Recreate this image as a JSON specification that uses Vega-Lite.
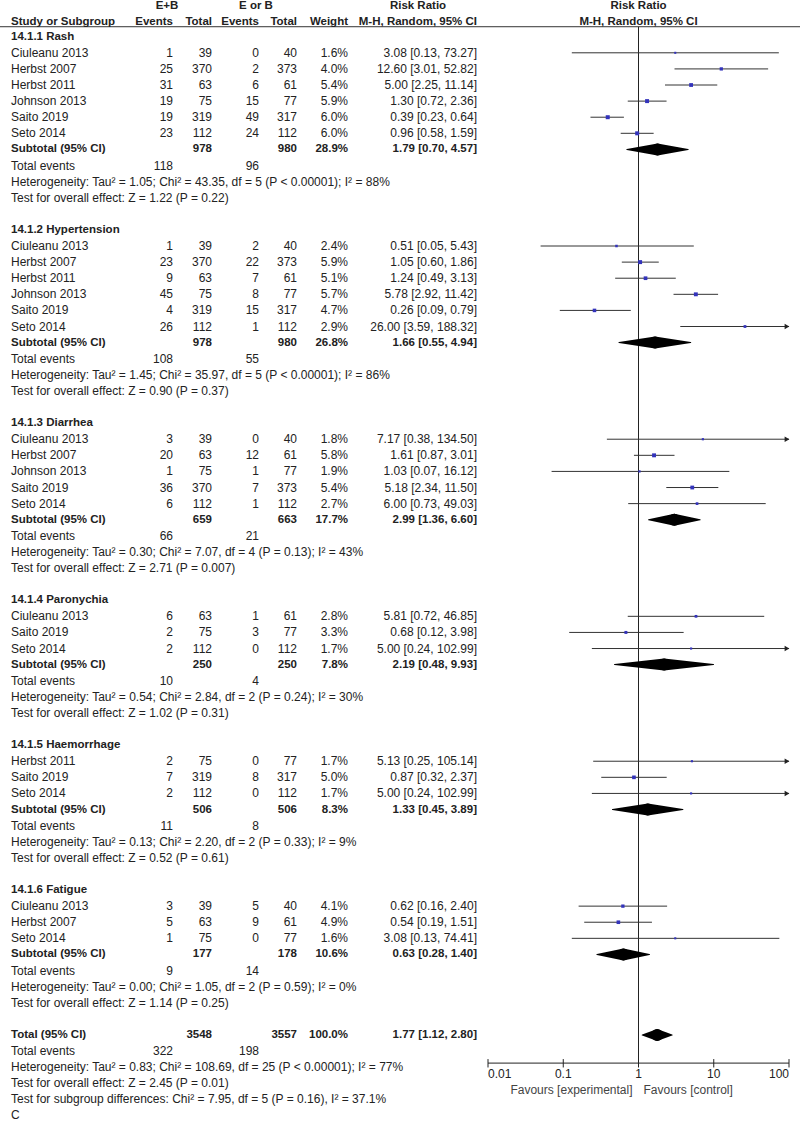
{
  "$schema": "https://vega.github.io/schema/vega-lite/v6.json",
  "width": 800,
  "height": 1123,
  "padding": 0,
  "autosize": {"type": "none"},
  "background": "white",
  "config": {
    "view": {"stroke": null},
    "text": {"font": "Liberation Sans", "fontSize": 12, "color": "#222", "baseline": "middle"}
  },
  "datasets": {
    "tab": [
      {"r": -0.93, "k": "head", "s": "Study or Subgroup", "e1": "Events", "n1": "Total", "e2": "Events", "n2": "Total", "w": "Weight", "ci": "M-H, Random, 95% CI"},
      {"r": 0, "k": "grp", "s": "14.1.1 Rash"},
      {"r": 1, "k": "st", "s": "Ciuleanu 2013", "e1": 1, "n1": 39, "e2": 0, "n2": 40, "w": "1.6%", "wt": 1.6, "ci": "3.08 [0.13, 73.27]", "est": 3.08, "lo": 0.13, "hi": 73.27},
      {"r": 2, "k": "st", "s": "Herbst 2007", "e1": 25, "n1": 370, "e2": 2, "n2": 373, "w": "4.0%", "wt": 4.0, "ci": "12.60 [3.01, 52.82]", "est": 12.6, "lo": 3.01, "hi": 52.82},
      {"r": 3, "k": "st", "s": "Herbst 2011", "e1": 31, "n1": 63, "e2": 6, "n2": 61, "w": "5.4%", "wt": 5.4, "ci": "5.00 [2.25, 11.14]", "est": 5.0, "lo": 2.25, "hi": 11.14},
      {"r": 4, "k": "st", "s": "Johnson 2013", "e1": 19, "n1": 75, "e2": 15, "n2": 77, "w": "5.9%", "wt": 5.9, "ci": "1.30 [0.72, 2.36]", "est": 1.3, "lo": 0.72, "hi": 2.36},
      {"r": 5, "k": "st", "s": "Saito 2019", "e1": 19, "n1": 319, "e2": 49, "n2": 317, "w": "6.0%", "wt": 6.0, "ci": "0.39 [0.23, 0.64]", "est": 0.39, "lo": 0.23, "hi": 0.64},
      {"r": 6, "k": "st", "s": "Seto 2014", "e1": 23, "n1": 112, "e2": 24, "n2": 112, "w": "6.0%", "wt": 6.0, "ci": "0.96 [0.58, 1.59]", "est": 0.96, "lo": 0.58, "hi": 1.59},
      {"r": 7, "k": "sub", "s": "Subtotal (95% CI)", "n1": 978, "n2": 980, "w": "28.9%", "ci": "1.79 [0.70, 4.57]", "est": 1.79, "lo": 0.70, "hi": 4.57},
      {"r": 8, "k": "ev", "s": "Total events", "e1": 118, "e2": 96},
      {"r": 9, "k": "note", "s": "Heterogeneity: Tau² = 1.05; Chi² = 43.35, df = 5 (P < 0.00001); I² = 88%"},
      {"r": 10, "k": "note", "s": "Test for overall effect: Z = 1.22 (P = 0.22)"},
      {"r": 12, "k": "grp", "s": "14.1.2 Hypertension"},
      {"r": 13, "k": "st", "s": "Ciuleanu 2013", "e1": 1, "n1": 39, "e2": 2, "n2": 40, "w": "2.4%", "wt": 2.4, "ci": "0.51 [0.05, 5.43]", "est": 0.51, "lo": 0.05, "hi": 5.43},
      {"r": 14, "k": "st", "s": "Herbst 2007", "e1": 23, "n1": 370, "e2": 22, "n2": 373, "w": "5.9%", "wt": 5.9, "ci": "1.05 [0.60, 1.86]", "est": 1.05, "lo": 0.60, "hi": 1.86},
      {"r": 15, "k": "st", "s": "Herbst 2011", "e1": 9, "n1": 63, "e2": 7, "n2": 61, "w": "5.1%", "wt": 5.1, "ci": "1.24 [0.49, 3.13]", "est": 1.24, "lo": 0.49, "hi": 3.13},
      {"r": 16, "k": "st", "s": "Johnson 2013", "e1": 45, "n1": 75, "e2": 8, "n2": 77, "w": "5.7%", "wt": 5.7, "ci": "5.78 [2.92, 11.42]", "est": 5.78, "lo": 2.92, "hi": 11.42},
      {"r": 17, "k": "st", "s": "Saito 2019", "e1": 4, "n1": 319, "e2": 15, "n2": 317, "w": "4.7%", "wt": 4.7, "ci": "0.26 [0.09, 0.79]", "est": 0.26, "lo": 0.09, "hi": 0.79},
      {"r": 18, "k": "st", "s": "Seto 2014", "e1": 26, "n1": 112, "e2": 1, "n2": 112, "w": "2.9%", "wt": 2.9, "ci": "26.00 [3.59, 188.32]", "est": 26.0, "lo": 3.59, "hi": 188.32},
      {"r": 19, "k": "sub", "s": "Subtotal (95% CI)", "n1": 978, "n2": 980, "w": "26.8%", "ci": "1.66 [0.55, 4.94]", "est": 1.66, "lo": 0.55, "hi": 4.94},
      {"r": 20, "k": "ev", "s": "Total events", "e1": 108, "e2": 55},
      {"r": 21, "k": "note", "s": "Heterogeneity: Tau² = 1.45; Chi² = 35.97, df = 5 (P < 0.00001); I² = 86%"},
      {"r": 22, "k": "note", "s": "Test for overall effect: Z = 0.90 (P = 0.37)"},
      {"r": 24, "k": "grp", "s": "14.1.3 Diarrhea"},
      {"r": 25, "k": "st", "s": "Ciuleanu 2013", "e1": 3, "n1": 39, "e2": 0, "n2": 40, "w": "1.8%", "wt": 1.8, "ci": "7.17 [0.38, 134.50]", "est": 7.17, "lo": 0.38, "hi": 134.5},
      {"r": 26, "k": "st", "s": "Herbst 2007", "e1": 20, "n1": 63, "e2": 12, "n2": 61, "w": "5.8%", "wt": 5.8, "ci": "1.61 [0.87, 3.01]", "est": 1.61, "lo": 0.87, "hi": 3.01},
      {"r": 27, "k": "st", "s": "Johnson 2013", "e1": 1, "n1": 75, "e2": 1, "n2": 77, "w": "1.9%", "wt": 1.9, "ci": "1.03 [0.07, 16.12]", "est": 1.03, "lo": 0.07, "hi": 16.12},
      {"r": 28, "k": "st", "s": "Saito 2019", "e1": 36, "n1": 370, "e2": 7, "n2": 373, "w": "5.4%", "wt": 5.4, "ci": "5.18 [2.34, 11.50]", "est": 5.18, "lo": 2.34, "hi": 11.5},
      {"r": 29, "k": "st", "s": "Seto 2014", "e1": 6, "n1": 112, "e2": 1, "n2": 112, "w": "2.7%", "wt": 2.7, "ci": "6.00 [0.73, 49.03]", "est": 6.0, "lo": 0.73, "hi": 49.03},
      {"r": 30, "k": "sub", "s": "Subtotal (95% CI)", "n1": 659, "n2": 663, "w": "17.7%", "ci": "2.99 [1.36, 6.60]", "est": 2.99, "lo": 1.36, "hi": 6.6},
      {"r": 31, "k": "ev", "s": "Total events", "e1": 66, "e2": 21},
      {"r": 32, "k": "note", "s": "Heterogeneity: Tau² = 0.30; Chi² = 7.07, df = 4 (P = 0.13); I² = 43%"},
      {"r": 33, "k": "note", "s": "Test for overall effect: Z = 2.71 (P = 0.007)"},
      {"r": 35, "k": "grp", "s": "14.1.4 Paronychia"},
      {"r": 36, "k": "st", "s": "Ciuleanu 2013", "e1": 6, "n1": 63, "e2": 1, "n2": 61, "w": "2.8%", "wt": 2.8, "ci": "5.81 [0.72, 46.85]", "est": 5.81, "lo": 0.72, "hi": 46.85},
      {"r": 37, "k": "st", "s": "Saito 2019", "e1": 2, "n1": 75, "e2": 3, "n2": 77, "w": "3.3%", "wt": 3.3, "ci": "0.68 [0.12, 3.98]", "est": 0.68, "lo": 0.12, "hi": 3.98},
      {"r": 38, "k": "st", "s": "Seto 2014", "e1": 2, "n1": 112, "e2": 0, "n2": 112, "w": "1.7%", "wt": 1.7, "ci": "5.00 [0.24, 102.99]", "est": 5.0, "lo": 0.24, "hi": 102.99},
      {"r": 39, "k": "sub", "s": "Subtotal (95% CI)", "n1": 250, "n2": 250, "w": "7.8%", "ci": "2.19 [0.48, 9.93]", "est": 2.19, "lo": 0.48, "hi": 9.93},
      {"r": 40, "k": "ev", "s": "Total events", "e1": 10, "e2": 4},
      {"r": 41, "k": "note", "s": "Heterogeneity: Tau² = 0.54; Chi² = 2.84, df = 2 (P = 0.24); I² = 30%"},
      {"r": 42, "k": "note", "s": "Test for overall effect: Z = 1.02 (P = 0.31)"},
      {"r": 44, "k": "grp", "s": "14.1.5 Haemorrhage"},
      {"r": 45, "k": "st", "s": "Herbst 2011", "e1": 2, "n1": 75, "e2": 0, "n2": 77, "w": "1.7%", "wt": 1.7, "ci": "5.13 [0.25, 105.14]", "est": 5.13, "lo": 0.25, "hi": 105.14},
      {"r": 46, "k": "st", "s": "Saito 2019", "e1": 7, "n1": 319, "e2": 8, "n2": 317, "w": "5.0%", "wt": 5.0, "ci": "0.87 [0.32, 2.37]", "est": 0.87, "lo": 0.32, "hi": 2.37},
      {"r": 47, "k": "st", "s": "Seto 2014", "e1": 2, "n1": 112, "e2": 0, "n2": 112, "w": "1.7%", "wt": 1.7, "ci": "5.00 [0.24, 102.99]", "est": 5.0, "lo": 0.24, "hi": 102.99},
      {"r": 48, "k": "sub", "s": "Subtotal (95% CI)", "n1": 506, "n2": 506, "w": "8.3%", "ci": "1.33 [0.45, 3.89]", "est": 1.33, "lo": 0.45, "hi": 3.89},
      {"r": 49, "k": "ev", "s": "Total events", "e1": 11, "e2": 8},
      {"r": 50, "k": "note", "s": "Heterogeneity: Tau² = 0.13; Chi² = 2.20, df = 2 (P = 0.33); I² = 9%"},
      {"r": 51, "k": "note", "s": "Test for overall effect: Z = 0.52 (P = 0.61)"},
      {"r": 53, "k": "grp", "s": "14.1.6 Fatigue"},
      {"r": 54, "k": "st", "s": "Ciuleanu 2013", "e1": 3, "n1": 39, "e2": 5, "n2": 40, "w": "4.1%", "wt": 4.1, "ci": "0.62 [0.16, 2.40]", "est": 0.62, "lo": 0.16, "hi": 2.4},
      {"r": 55, "k": "st", "s": "Herbst 2007", "e1": 5, "n1": 63, "e2": 9, "n2": 61, "w": "4.9%", "wt": 4.9, "ci": "0.54 [0.19, 1.51]", "est": 0.54, "lo": 0.19, "hi": 1.51},
      {"r": 56, "k": "st", "s": "Seto 2014", "e1": 1, "n1": 75, "e2": 0, "n2": 77, "w": "1.6%", "wt": 1.6, "ci": "3.08 [0.13, 74.41]", "est": 3.08, "lo": 0.13, "hi": 74.41},
      {"r": 57, "k": "sub", "s": "Subtotal (95% CI)", "n1": 177, "n2": 178, "w": "10.6%", "ci": "0.63 [0.28, 1.40]", "est": 0.63, "lo": 0.28, "hi": 1.4},
      {"r": 58, "k": "ev", "s": "Total events", "e1": 9, "e2": 14},
      {"r": 59, "k": "note", "s": "Heterogeneity: Tau² = 0.00; Chi² = 1.05, df = 2 (P = 0.59); I² = 0%"},
      {"r": 60, "k": "note", "s": "Test for overall effect: Z = 1.14 (P = 0.25)"},
      {"r": 62, "k": "sub", "s": "Total (95% CI)", "n1": 3548, "n2": 3557, "w": "100.0%", "ci": "1.77 [1.12, 2.80]", "est": 1.77, "lo": 1.12, "hi": 2.8},
      {"r": 63, "k": "ev", "s": "Total events", "e1": 322, "e2": 198},
      {"r": 64, "k": "note", "s": "Heterogeneity: Tau² = 0.83; Chi² = 108.69, df = 25 (P < 0.00001); I² = 77%"},
      {"r": 65, "k": "note", "s": "Test for overall effect: Z = 2.45 (P = 0.01)"},
      {"r": 66, "k": "note", "s": "Test for subgroup differences: Chi² = 7.95, df = 5 (P = 0.16), I² = 37.1%"},
      {"r": 67, "k": "note", "s": "C"}
    ],
    "ticks": [{"v": 0.01}, {"v": 0.1}, {"v": 1}, {"v": 10}, {"v": 100}]
  },
  "data": {"name": "tab"},
  "layer": [
    {
      "layer": [
        {"transform": [{"filter": "datum.k=='head'"}], "mark": {"type": "rule", "color": "#333", "strokeWidth": 1},
         "encoding": {"x": {"datum": 0, "type": "quantitative", "scale": {"domain": [0, 800], "range": [0, 800]}, "axis": null},
                      "x2": {"datum": 800},
                      "y": {"datum": -0.62, "type": "quantitative", "scale": {"domain": [-2.28, 67.47], "reverse": true}, "axis": null}}},
        {"transform": [{"filter": "datum.k=='head'"}], "mark": {"type": "text", "align": "center", "fontWeight": "bold", "fontSize": 11.5},
         "encoding": {"x": {"datum": 167, "type": "quantitative", "scale": {"domain": [0, 800], "range": [0, 800]}, "axis": null},
                      "y": {"datum": -1.9, "type": "quantitative", "scale": {"domain": [-2.28, 67.47], "reverse": true}, "axis": null},
                      "text": {"value": "E+B"}}},
        {"transform": [{"filter": "datum.k=='head'"}], "mark": {"type": "text", "align": "center", "fontWeight": "bold", "fontSize": 11.5},
         "encoding": {"x": {"datum": 256, "type": "quantitative", "scale": {"domain": [0, 800], "range": [0, 800]}, "axis": null},
                      "y": {"datum": -1.9, "type": "quantitative", "scale": {"domain": [-2.28, 67.47], "reverse": true}, "axis": null},
                      "text": {"value": "E or B"}}},
        {"transform": [{"filter": "datum.k=='head'"}], "mark": {"type": "text", "align": "center", "fontWeight": "bold", "fontSize": 11.5},
         "encoding": {"x": {"datum": 418, "type": "quantitative", "scale": {"domain": [0, 800], "range": [0, 800]}, "axis": null},
                      "y": {"datum": -1.9, "type": "quantitative", "scale": {"domain": [-2.28, 67.47], "reverse": true}, "axis": null},
                      "text": {"value": "Risk Ratio"}}},

        {"transform": [{"filter": "!(datum.k=='head'||datum.k=='grp'||datum.k=='sub')"}],
         "mark": {"type": "text", "align": "left"},
         "encoding": {"x": {"datum": 11, "type": "quantitative", "scale": {"domain": [0, 800], "range": [0, 800]}, "axis": null},
                      "y": {"field": "r", "type": "quantitative", "scale": {"domain": [-2.28, 67.47], "reverse": true}, "axis": null},
                      "text": {"field": "s", "type": "nominal"}}},
        {"transform": [{"filter": "!(datum.k=='head'||datum.k=='grp'||datum.k=='sub') && isValid(datum.e1)"}],
         "mark": {"type": "text", "align": "right"},
         "encoding": {"x": {"datum": 173, "type": "quantitative", "scale": {"domain": [0, 800], "range": [0, 800]}, "axis": null},
                      "y": {"field": "r", "type": "quantitative", "scale": {"domain": [-2.28, 67.47], "reverse": true}, "axis": null},
                      "text": {"field": "e1", "type": "nominal"}}},
        {"transform": [{"filter": "!(datum.k=='head'||datum.k=='grp'||datum.k=='sub') && isValid(datum.n1)"}],
         "mark": {"type": "text", "align": "right"},
         "encoding": {"x": {"datum": 212, "type": "quantitative", "scale": {"domain": [0, 800], "range": [0, 800]}, "axis": null},
                      "y": {"field": "r", "type": "quantitative", "scale": {"domain": [-2.28, 67.47], "reverse": true}, "axis": null},
                      "text": {"field": "n1", "type": "nominal"}}},
        {"transform": [{"filter": "!(datum.k=='head'||datum.k=='grp'||datum.k=='sub') && isValid(datum.e2)"}],
         "mark": {"type": "text", "align": "right"},
         "encoding": {"x": {"datum": 259, "type": "quantitative", "scale": {"domain": [0, 800], "range": [0, 800]}, "axis": null},
                      "y": {"field": "r", "type": "quantitative", "scale": {"domain": [-2.28, 67.47], "reverse": true}, "axis": null},
                      "text": {"field": "e2", "type": "nominal"}}},
        {"transform": [{"filter": "!(datum.k=='head'||datum.k=='grp'||datum.k=='sub') && isValid(datum.n2)"}],
         "mark": {"type": "text", "align": "right"},
         "encoding": {"x": {"datum": 297, "type": "quantitative", "scale": {"domain": [0, 800], "range": [0, 800]}, "axis": null},
                      "y": {"field": "r", "type": "quantitative", "scale": {"domain": [-2.28, 67.47], "reverse": true}, "axis": null},
                      "text": {"field": "n2", "type": "nominal"}}},
        {"transform": [{"filter": "!(datum.k=='head'||datum.k=='grp'||datum.k=='sub') && isValid(datum.w)"}],
         "mark": {"type": "text", "align": "right"},
         "encoding": {"x": {"datum": 348, "type": "quantitative", "scale": {"domain": [0, 800], "range": [0, 800]}, "axis": null},
                      "y": {"field": "r", "type": "quantitative", "scale": {"domain": [-2.28, 67.47], "reverse": true}, "axis": null},
                      "text": {"field": "w", "type": "nominal"}}},
        {"transform": [{"filter": "!(datum.k=='head'||datum.k=='grp'||datum.k=='sub') && isValid(datum.ci)"}],
         "mark": {"type": "text", "align": "right"},
         "encoding": {"x": {"datum": 477, "type": "quantitative", "scale": {"domain": [0, 800], "range": [0, 800]}, "axis": null},
                      "y": {"field": "r", "type": "quantitative", "scale": {"domain": [-2.28, 67.47], "reverse": true}, "axis": null},
                      "text": {"field": "ci", "type": "nominal"}}},

        {"transform": [{"filter": "(datum.k=='head'||datum.k=='grp'||datum.k=='sub')"}],
         "mark": {"type": "text", "align": "left", "fontWeight": "bold", "fontSize": 11.5},
         "encoding": {"x": {"datum": 11, "type": "quantitative", "scale": {"domain": [0, 800], "range": [0, 800]}, "axis": null},
                      "y": {"field": "r", "type": "quantitative", "scale": {"domain": [-2.28, 67.47], "reverse": true}, "axis": null},
                      "text": {"field": "s", "type": "nominal"}}},
        {"transform": [{"filter": "(datum.k=='head'||datum.k=='grp'||datum.k=='sub') && isValid(datum.e1)"}],
         "mark": {"type": "text", "align": "right", "fontWeight": "bold", "fontSize": 11.5},
         "encoding": {"x": {"datum": 173, "type": "quantitative", "scale": {"domain": [0, 800], "range": [0, 800]}, "axis": null},
                      "y": {"field": "r", "type": "quantitative", "scale": {"domain": [-2.28, 67.47], "reverse": true}, "axis": null},
                      "text": {"field": "e1", "type": "nominal"}}},
        {"transform": [{"filter": "(datum.k=='head'||datum.k=='grp'||datum.k=='sub') && isValid(datum.n1)"}],
         "mark": {"type": "text", "align": "right", "fontWeight": "bold", "fontSize": 11.5},
         "encoding": {"x": {"datum": 212, "type": "quantitative", "scale": {"domain": [0, 800], "range": [0, 800]}, "axis": null},
                      "y": {"field": "r", "type": "quantitative", "scale": {"domain": [-2.28, 67.47], "reverse": true}, "axis": null},
                      "text": {"field": "n1", "type": "nominal"}}},
        {"transform": [{"filter": "(datum.k=='head'||datum.k=='grp'||datum.k=='sub') && isValid(datum.e2)"}],
         "mark": {"type": "text", "align": "right", "fontWeight": "bold", "fontSize": 11.5},
         "encoding": {"x": {"datum": 259, "type": "quantitative", "scale": {"domain": [0, 800], "range": [0, 800]}, "axis": null},
                      "y": {"field": "r", "type": "quantitative", "scale": {"domain": [-2.28, 67.47], "reverse": true}, "axis": null},
                      "text": {"field": "e2", "type": "nominal"}}},
        {"transform": [{"filter": "(datum.k=='head'||datum.k=='grp'||datum.k=='sub') && isValid(datum.n2)"}],
         "mark": {"type": "text", "align": "right", "fontWeight": "bold", "fontSize": 11.5},
         "encoding": {"x": {"datum": 297, "type": "quantitative", "scale": {"domain": [0, 800], "range": [0, 800]}, "axis": null},
                      "y": {"field": "r", "type": "quantitative", "scale": {"domain": [-2.28, 67.47], "reverse": true}, "axis": null},
                      "text": {"field": "n2", "type": "nominal"}}},
        {"transform": [{"filter": "(datum.k=='head'||datum.k=='grp'||datum.k=='sub') && isValid(datum.w)"}],
         "mark": {"type": "text", "align": "right", "fontWeight": "bold", "fontSize": 11.5},
         "encoding": {"x": {"datum": 348, "type": "quantitative", "scale": {"domain": [0, 800], "range": [0, 800]}, "axis": null},
                      "y": {"field": "r", "type": "quantitative", "scale": {"domain": [-2.28, 67.47], "reverse": true}, "axis": null},
                      "text": {"field": "w", "type": "nominal"}}},
        {"transform": [{"filter": "(datum.k=='head'||datum.k=='grp'||datum.k=='sub') && isValid(datum.ci)"}],
         "mark": {"type": "text", "align": "right", "fontWeight": "bold", "fontSize": 11.5},
         "encoding": {"x": {"datum": 477, "type": "quantitative", "scale": {"domain": [0, 800], "range": [0, 800]}, "axis": null},
                      "y": {"field": "r", "type": "quantitative", "scale": {"domain": [-2.28, 67.47], "reverse": true}, "axis": null},
                      "text": {"field": "ci", "type": "nominal"}}}
      ]
    },
    {
      "layer": [
        {"transform": [{"filter": "datum.k=='head'"}], "mark": {"type": "rule", "color": "#222", "strokeWidth": 1},
         "encoding": {"x": {"datum": 1, "type": "quantitative", "scale": {"type": "log", "domain": [0.01, 100], "range": [488, 789], "clamp": true}, "axis": null},
                      "y": {"datum": -0.62, "type": "quantitative", "scale": {"domain": [-2.28, 67.47], "reverse": true}, "axis": null},
                      "y2": {"datum": 63.75}}},
        {"transform": [{"filter": "datum.k=='st'"}],
         "mark": {"type": "rule", "color": "#333", "strokeWidth": 1},
         "encoding": {"x": {"field": "lo", "type": "quantitative", "scale": {"type": "log", "domain": [0.01, 100], "range": [488, 789], "clamp": true}, "axis": null},
                      "x2": {"field": "hi"},
                      "y": {"field": "r", "type": "quantitative", "scale": {"domain": [-2.28, 67.47], "reverse": true}, "axis": null}}},
        {"transform": [{"filter": "datum.k=='st'"}],
         "mark": {"type": "point", "shape": "square", "filled": true, "color": "#3333bb", "opacity": 1},
         "encoding": {"x": {"field": "est", "type": "quantitative", "scale": {"type": "log", "domain": [0.01, 100], "range": [488, 789], "clamp": true}, "axis": null},
                      "y": {"field": "r", "type": "quantitative", "scale": {"domain": [-2.28, 67.47], "reverse": true}, "axis": null},
                      "size": {"field": "wt", "type": "quantitative", "scale": {"domain": [0, 6], "range": [0, 16]}, "legend": null}}},
        {"transform": [{"filter": "datum.k=='st' && datum.hi > 100"}],
         "mark": {"type": "point", "shape": "triangle-right", "filled": true, "color": "#222", "opacity": 1, "size": 30, "xOffset": -2},
         "encoding": {"x": {"field": "hi", "type": "quantitative", "scale": {"type": "log", "domain": [0.01, 100], "range": [488, 789], "clamp": true}, "axis": null},
                      "y": {"field": "r", "type": "quantitative", "scale": {"domain": [-2.28, 67.47], "reverse": true}, "axis": null}}},
        {"transform": [{"filter": "datum.k=='sub'"}, {"fold": ["lo", "est"], "as": ["key", "v"]}],
         "mark": {"type": "trail", "color": "#000"},
         "encoding": {"x": {"field": "v", "type": "quantitative", "scale": {"type": "log", "domain": [0.01, 100], "range": [488, 789], "clamp": true}, "axis": null},
                      "y": {"field": "r", "type": "quantitative", "scale": {"domain": [-2.28, 67.47], "reverse": true}, "axis": null},
                      "detail": {"field": "r", "type": "nominal"},
                      "size": {"field": "key", "type": "ordinal", "scale": {"type": "point", "domain": ["lo", "est"], "range": [0, 12], "padding": 0}, "legend": null}}},
        {"transform": [{"filter": "datum.k=='sub'"}, {"fold": ["hi", "est"], "as": ["key", "v"]}],
         "mark": {"type": "trail", "color": "#000"},
         "encoding": {"x": {"field": "v", "type": "quantitative", "scale": {"type": "log", "domain": [0.01, 100], "range": [488, 789], "clamp": true}, "axis": null},
                      "y": {"field": "r", "type": "quantitative", "scale": {"domain": [-2.28, 67.47], "reverse": true}, "axis": null},
                      "detail": {"field": "r", "type": "nominal"},
                      "size": {"field": "key", "type": "ordinal", "scale": {"type": "point", "domain": ["hi", "est"], "range": [0, 12], "padding": 0}, "legend": null}}},
        {"transform": [{"filter": "datum.k=='head'"}], "mark": {"type": "text", "align": "center", "fontWeight": "bold", "fontSize": 11.5},
         "encoding": {"x": {"datum": 1, "type": "quantitative", "scale": {"type": "log", "domain": [0.01, 100], "range": [488, 789], "clamp": true}, "axis": null},
                      "y": {"datum": -1.9, "type": "quantitative", "scale": {"domain": [-2.28, 67.47], "reverse": true}, "axis": null},
                      "text": {"value": "Risk Ratio"}}},
        {"transform": [{"filter": "datum.k=='head'"}], "mark": {"type": "text", "align": "center", "fontWeight": "bold", "fontSize": 11.5},
         "encoding": {"x": {"datum": 1, "type": "quantitative", "scale": {"type": "log", "domain": [0.01, 100], "range": [488, 789], "clamp": true}, "axis": null},
                      "y": {"datum": -0.93, "type": "quantitative", "scale": {"domain": [-2.28, 67.47], "reverse": true}, "axis": null},
                      "text": {"value": "M-H, Random, 95% CI"}}},
        {"transform": [{"filter": "datum.k=='head'"}], "mark": {"type": "text", "align": "right", "dx": -6, "color": "#444"},
         "encoding": {"x": {"datum": 1, "type": "quantitative", "scale": {"type": "log", "domain": [0.01, 100], "range": [488, 789], "clamp": true}, "axis": null},
                      "y": {"datum": 65.42, "type": "quantitative", "scale": {"domain": [-2.28, 67.47], "reverse": true}, "axis": null},
                      "text": {"value": "Favours [experimental]"}}},
        {"transform": [{"filter": "datum.k=='head'"}], "mark": {"type": "text", "align": "left", "dx": 5, "color": "#444"},
         "encoding": {"x": {"datum": 1, "type": "quantitative", "scale": {"type": "log", "domain": [0.01, 100], "range": [488, 789], "clamp": true}, "axis": null},
                      "y": {"datum": 65.42, "type": "quantitative", "scale": {"domain": [-2.28, 67.47], "reverse": true}, "axis": null},
                      "text": {"value": "Favours [control]"}}},
        {"data": {"name": "ticks"}, "transform": [{"filter": "datum.v == 0.01"}], "mark": {"type": "rule", "color": "#222", "strokeWidth": 1},
         "encoding": {"x": {"datum": 0.01, "type": "quantitative", "scale": {"type": "log", "domain": [0.01, 100], "range": [488, 789], "clamp": true}, "axis": null},
                      "x2": {"datum": 100},
                      "y": {"datum": 63.75, "type": "quantitative", "scale": {"domain": [-2.28, 67.47], "reverse": true}, "axis": null}}},
        {"data": {"name": "ticks"}, "mark": {"type": "rule", "color": "#222", "strokeWidth": 1},
         "encoding": {"x": {"field": "v", "type": "quantitative", "scale": {"type": "log", "domain": [0.01, 100], "range": [488, 789], "clamp": true}, "axis": null},
                      "y": {"datum": 63.5, "type": "quantitative", "scale": {"domain": [-2.28, 67.47], "reverse": true}, "axis": null},
                      "y2": {"datum": 64.02}}},
        {"data": {"name": "ticks"}, "transform": [{"filter": "datum.v == 0.01"}], "mark": {"type": "text", "align": "left"},
         "encoding": {"x": {"field": "v", "type": "quantitative", "scale": {"type": "log", "domain": [0.01, 100], "range": [488, 789], "clamp": true}, "axis": null},
                      "y": {"datum": 64.45, "type": "quantitative", "scale": {"domain": [-2.28, 67.47], "reverse": true}, "axis": null},
                      "text": {"field": "v", "type": "quantitative", "format": "~g"}}},
        {"data": {"name": "ticks"}, "transform": [{"filter": "datum.v > 0.01 && datum.v < 100"}], "mark": {"type": "text", "align": "center"},
         "encoding": {"x": {"field": "v", "type": "quantitative", "scale": {"type": "log", "domain": [0.01, 100], "range": [488, 789], "clamp": true}, "axis": null},
                      "y": {"datum": 64.45, "type": "quantitative", "scale": {"domain": [-2.28, 67.47], "reverse": true}, "axis": null},
                      "text": {"field": "v", "type": "quantitative", "format": "~g"}}},
        {"data": {"name": "ticks"}, "transform": [{"filter": "datum.v == 100"}], "mark": {"type": "text", "align": "right"},
         "encoding": {"x": {"field": "v", "type": "quantitative", "scale": {"type": "log", "domain": [0.01, 100], "range": [488, 789], "clamp": true}, "axis": null},
                      "y": {"datum": 64.45, "type": "quantitative", "scale": {"domain": [-2.28, 67.47], "reverse": true}, "axis": null},
                      "text": {"field": "v", "type": "quantitative", "format": "~g"}}}
      ],
      "resolve": {"scale": {"size": "independent"}}
    }
  ],
  "resolve": {"scale": {"x": "independent"}}
}
